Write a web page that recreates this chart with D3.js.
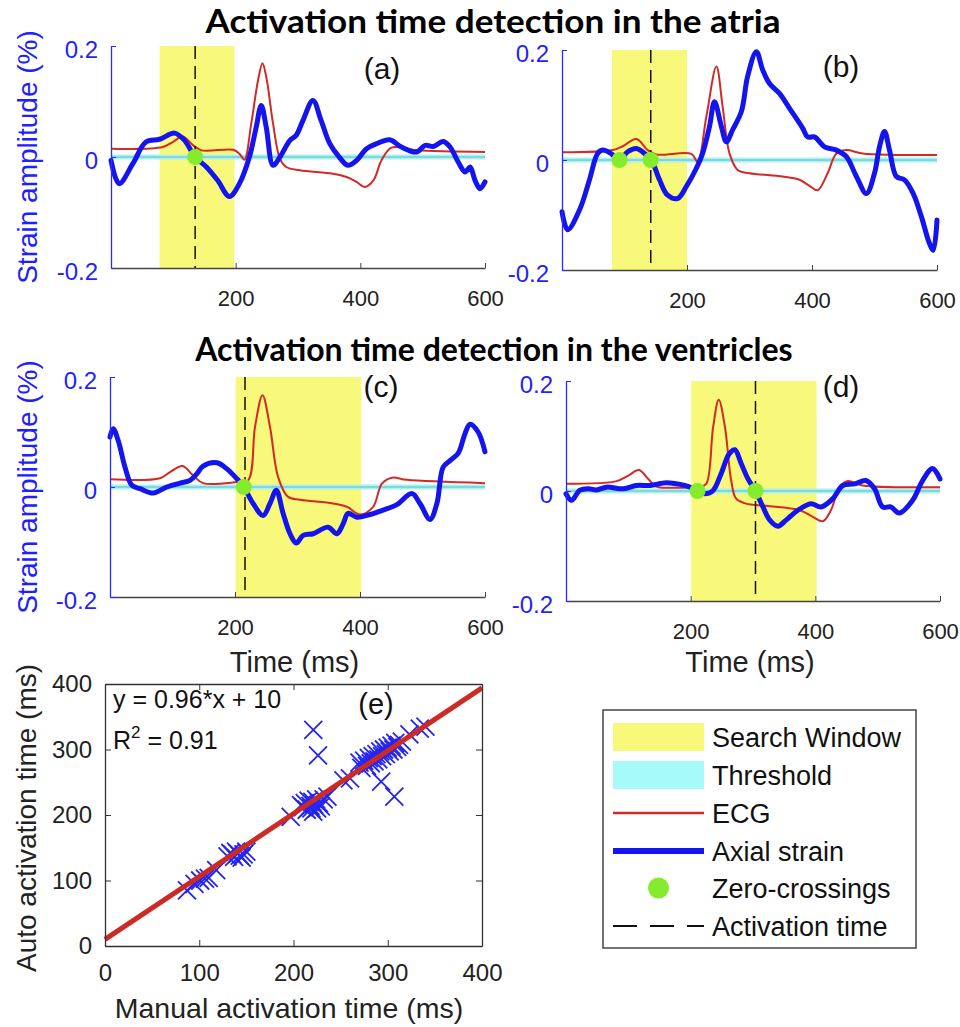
<!DOCTYPE html>
<html><head><meta charset="utf-8">
<script src="https://cdn.jsdelivr.net/npm/d3@7"></script>
<style>
body{margin:0;background:#fff;}
svg text{font-family:"Liberation Sans",Arial,Helvetica,sans-serif;}
</style></head><body>
<svg id="chart" width="960" height="1027"></svg>
<script>
// ---------------- DATA ----------------
const titles = ["Activation time detection in the atria", "Activation time detection in the ventricles"];
const panelLabels = ["(a)", "(b)", "(c)", "(d)"];
const timeTicks = [200, 400, 600];
const strainTicks = [-0.2, 0, 0.2];
const searchWindows = [[78, 198], [80, 200], [201, 402], [201, 402]];
const activationTimes = [135, 142, 216, 304];
const zeroCrossings = [[135], [92, 142], [214], [211, 304]];

// [time ms, strain %]
const strainA = [[0,-0.006],[13,-0.048],[35,-0.012],[56,0.027],[78,0.032],[102,0.043],[118,0.030],[135,0],[153,-0.018],[171,-0.042],[190,-0.071],[206,-0.048],[222,0],[233,0.054],[241,0.093],[249,0.054],[260,-0.015],[271,0],[287,0.030],[297,0.039],[308,0.066],[324,0.102],[337,0.066],[351,0.024],[364,0.003],[380,-0.015],[394,-0.006],[410,0.015],[426,0.024],[447,0.031],[466,0.018],[490,0.009],[504,0.021],[517,0.019],[533,0.028],[544,0.018],[557,-0.009],[568,-0.027],[576,-0.018],[584,-0.042],[592,-0.057],[600,-0.045]];
const ecgA = [[0,0.015],[83,0.018],[99,0.027],[115,0.037],[132,0.021],[145,0.012],[196,0.013],[206,0.006],[214,-0.005],[225,0.060],[236,0.139],[243,0.169],[249,0.145],[260,0.060],[271,-0.003],[281,-0.018],[303,-0.024],[356,-0.030],[378,-0.036],[394,-0.045],[407,-0.054],[421,-0.042],[434,-0.006],[450,0.017],[490,0.012],[600,0.009]];

const strainB = [[0,-0.094],[9,-0.127],[28,-0.091],[44,-0.036],[57,0.012],[65,0.018],[78,0.012],[92,0],[105,0.015],[119,0.021],[132,0.012],[143,0],[156,-0.036],[169,-0.064],[185,-0.070],[199,-0.048],[215,-0.015],[225,0.012],[236,0.061],[244,0.106],[255,0.061],[263,0.033],[273,0.055],[287,0.088],[297,0.152],[311,0.197],[321,0.164],[332,0.139],[348,0.121],[364,0.094],[385,0.058],[393,0.042],[404,0.042],[420,0.024],[439,0.018],[455,0.006],[471,-0.030],[487,-0.061],[500,-0.024],[508,0.024],[516,0.052],[524,0.018],[535,-0.030],[548,-0.036],[562,-0.061],[575,-0.103],[588,-0.152],[594,-0.164],[600,-0.109]];
const ecgB = [[0,0.014],[81,0.018],[97,0.025],[119,0.038],[137,0.018],[151,0.010],[207,0.011],[217,-0.003],[231,0.079],[247,0.170],[257,0.097],[268,0.012],[281,-0.018],[300,-0.024],[353,-0.030],[380,-0.036],[396,-0.047],[409,-0.055],[425,-0.024],[439,0.012],[455,0.018],[481,0.012],[600,0.009]];

const strainC = [[0,0.091],[5,0.106],[13,0.085],[24,0.036],[35,0.003],[48,-0.003],[69,-0.011],[91,0],[112,0.007],[128,0.012],[139,0.024],[149,0.038],[171,0.044],[187,0.033],[203,0.015],[214,0],[229,-0.030],[245,-0.052],[256,-0.030],[266,-0.006],[277,-0.048],[288,-0.085],[298,-0.102],[309,-0.088],[325,-0.085],[349,-0.073],[363,-0.085],[373,-0.067],[381,-0.048],[395,-0.055],[416,-0.050],[437,-0.042],[459,-0.032],[483,-0.012],[496,-0.030],[512,-0.059],[523,-0.030],[533,0.036],[544,0.048],[557,0.061],[568,0.097],[576,0.114],[589,0.100],[600,0.064]];
const ecgC = [[0,0.014],[80,0.016],[96,0.027],[116,0.038],[133,0.021],[149,0.007],[203,0.009],[221,0.012],[232,0.109],[244,0.167],[256,0.109],[269,0.018],[285,-0.018],[304,-0.023],[357,-0.030],[379,-0.036],[400,-0.050],[421,-0.036],[435,0.006],[451,0.017],[475,0.013],[600,0.007]];

const strainD = [[0,-0.005],[9,-0.017],[22,0.001],[36,0.004],[49,0.002],[65,0.007],[92,0.004],[113,0.010],[135,0.010],[161,0.015],[183,0.012],[199,0.007],[211,0],[223,-0.005],[236,0.001],[249,0.032],[262,0.068],[271,0.075],[281,0.050],[292,0.022],[304,0],[316,-0.029],[327,-0.053],[340,-0.064],[353,-0.053],[372,-0.035],[393,-0.023],[409,-0.029],[428,-0.014],[444,0.010],[463,0.013],[481,0.019],[495,0.004],[508,-0.029],[521,-0.029],[535,-0.040],[556,-0.017],[572,0.019],[588,0.041],[600,0.022]];
const ecgD = [[0,0.013],[81,0.018],[100,0.028],[117,0.038],[132,0.022],[145,0.008],[172,0.006],[215,0.008],[225,0.013],[236,0.116],[245,0.166],[255,0.116],[265,0.019],[273,-0.014],[289,-0.023],[321,-0.027],[375,-0.035],[396,-0.047],[412,-0.055],[425,-0.035],[439,0.007],[452,0.018],[476,0.010],[600,0.007]];

// panel (e): manual vs auto activation time (ms)
const manualTimes = [87,95,101,106,110,118,130,133,135,137,139,141,143,145,147,150,197,208,210,212,214,216,218,219,220,221,222,224,225,227,229,232,236,221,226,293,307,253,260,270,272,275,278,280,282,284,286,288,290,292,294,296,298,300,302,304,306,308,310,312,315,323,334,340];
const autoTimes   = [85,95,100,103,104,116,137,142,140,136,144,141,138,135,140,144,197,215,212,218,208,222,214,210,220,205,216,224,210,218,213,224,228,330,291,251,228,253,256,280,272,283,275,287,279,290,282,293,285,297,290,300,293,303,297,306,300,310,304,307,312,323,332,335];
const fitSlope = 0.96, fitIntercept = 10;
const scatterTicks = [0, 100, 200, 300, 400];
const legendItems = ["Search Window", "Threshold", "ECG", "Axial strain", "Zero-crossings", "Activation time"];

// ---------------- LAYOUT ----------------
const svg = d3.select("#chart");
const BLUE = "#1414ee", RED = "#d22a26", YEL = "#f8f87a", GREEN = "#84ec2c";
const geoms = [
  {l:111, r:485, t:46, b:268},
  {l:562, r:937, t:50, b:270},
  {l:110, r:485, t:377, b:597},
  {l:566, r:940, t:381, b:601}
];
const letterPos = [[382,79],[841,77],[381,397],[841,397]];
const series = [[strainA, ecgA],[strainB, ecgB],[strainC, ecgC],[strainD, ecgD]];

svg.append("text").attr("x", 493).attr("y", 32.5).attr("text-anchor","middle")
  .attr("textLength", 575).attr("lengthAdjust", "spacingAndGlyphs")
  .style("font-family","Lato, 'Open Sans', sans-serif").style("font-weight","bold").style("font-size","32.5px").text(titles[0]);
svg.append("text").attr("x", 494).attr("y", 361).attr("text-anchor","middle")
  .style("font-family","Lato, 'Open Sans', sans-serif").style("font-weight","bold").style("font-size","32px").text(titles[1]);

function fmtStrain(d){ return d === 0 ? "0" : String(d); }

geoms.forEach((gm, i) => {
  const x = d3.scaleLinear().domain([0, 600]).range([gm.l, gm.r]);
  const y = d3.scaleLinear().domain([-0.2, 0.2]).range([gm.b, gm.t]);
  const g = svg.append("g");
  const w = searchWindows[i];
  g.append("rect").attr("x", x(w[0])).attr("width", x(w[1]) - x(w[0]))
    .attr("y", y(0.2)).attr("height", y(-0.2) - y(0.2)).attr("fill", YEL);
  // threshold band
  g.append("line").attr("x1", x(0)).attr("x2", x(600)).attr("y1", y(0)).attr("y2", y(0))
    .attr("stroke", "#a8f2f2").attr("stroke-width", 5);
  g.append("line").attr("x1", x(0)).attr("x2", x(600)).attr("y1", y(0)).attr("y2", y(0))
    .attr("stroke", "#5fb9bf").attr("stroke-width", 1.2);
  const line = d3.line().x(d => x(d[0])).y(d => y(d[1])).curve(d3.curveCatmullRom.alpha(0.5));
  g.append("path").attr("d", line(series[i][1])).attr("fill","none").attr("stroke", RED).attr("stroke-width", 2);
  g.append("path").attr("d", line(series[i][0])).attr("fill","none").attr("stroke", BLUE)
    .attr("stroke-width", 5).attr("stroke-linejoin","round").attr("stroke-linecap","round");
  g.append("line").attr("x1", x(activationTimes[i])).attr("x2", x(activationTimes[i]))
    .attr("y1", y(0.2)).attr("y2", y(-0.2)).attr("stroke", "#111").attr("stroke-width", 1.5)
    .attr("stroke-dasharray", "13,7");
  zeroCrossings[i].forEach(t => {
    g.append("circle").attr("cx", x(t)).attr("cy", y(0)).attr("r", 8).attr("fill", GREEN);
  });
  // axes
  const xa = g.append("g").attr("transform", `translate(0,${gm.b})`)
    .call(d3.axisBottom(x).tickValues(timeTicks).tickSize(-5).tickPadding(22).tickSizeOuter(0));
  xa.select(".domain").attr("stroke", "#444").attr("stroke-width", 1.3);
  xa.selectAll(".tick line").attr("stroke", "#444");
  xa.selectAll("text").style("font-size", "22px").attr("fill", "#222");
  const ya = g.append("g").attr("transform", `translate(${gm.l},0)`)
    .call(d3.axisLeft(y).tickValues(strainTicks).tickSize(-5).tickPadding(13).tickSizeOuter(0).tickFormat(fmtStrain));
  ya.select(".domain").attr("stroke", "#2b2bff").attr("stroke-width", 1.3);
  ya.selectAll(".tick line").attr("stroke", "#2b2bff");
  ya.selectAll("text").style("font-size", "24px").attr("fill", "#1f1fff").attr("dy", "0.48em");
  g.append("text").attr("x", letterPos[i][0]).attr("y", letterPos[i][1]).attr("text-anchor","middle")
    .style("font-size","30px").attr("fill","#111").text(panelLabels[i]);
  if (i === 0 || i === 2) {
    g.append("text").attr("transform", `translate(37,${(gm.t + gm.b)/2}) rotate(-90)`)
      .attr("text-anchor","middle").style("font-size","28px").attr("fill","#2020ff").text("Strain amplitude (%)");
  }
  if (i >= 2) {
    g.append("text").attr("x", (gm.l + gm.r)/2 - 3).attr("y", 672).attr("text-anchor","middle")
      .style("font-size","29px").attr("fill","#222").text("Time (ms)");
  }
});

// ---------------- PANEL (e) ----------------
{
  const gm = {l:105, r:482, t:684, b:946};
  const x = d3.scaleLinear().domain([0, 400]).range([gm.l, gm.r]);
  const y = d3.scaleLinear().domain([0, 400]).range([gm.b, gm.t]);
  const g = svg.append("g");
  const s = 9;
  manualTimes.forEach((m, k) => {
    const cx = x(m), cy = y(autoTimes[k]);
    g.append("path").attr("d", `M${cx-s},${cy-s}L${cx+s},${cy+s}M${cx-s},${cy+s}L${cx+s},${cy-s}`)
      .attr("stroke", "#2424f2").attr("stroke-width", 1.8).attr("fill","none");
  });
  g.append("line").attr("x1", x(0)).attr("y1", y(fitIntercept)).attr("x2", x(400)).attr("y2", y(fitSlope*400 + fitIntercept))
    .attr("stroke", "#cc2a22").attr("stroke-width", 5);
  const styleAx = a => { a.select(".domain").attr("stroke","#333").attr("stroke-width",1.3); a.selectAll(".tick line").attr("stroke","#333"); a.selectAll("text").style("font-size","24px").attr("fill","#222"); };
  styleAx(g.append("g").attr("transform",`translate(0,${gm.b})`).call(d3.axisBottom(x).tickValues(scatterTicks).tickSize(-6).tickPadding(18).tickSizeOuter(0)));
  styleAx(g.append("g").attr("transform",`translate(${gm.l},0)`).call(d3.axisLeft(y).tickValues(scatterTicks).tickSize(-6).tickPadding(13).tickSizeOuter(0)));
  styleAx(g.append("g").attr("transform",`translate(0,${gm.t})`).call(d3.axisTop(x).tickValues(scatterTicks).tickSize(-6).tickSizeOuter(0).tickFormat("")));
  styleAx(g.append("g").attr("transform",`translate(${gm.r},0)`).call(d3.axisRight(y).tickValues(scatterTicks).tickSize(-6).tickSizeOuter(0).tickFormat("")));
  g.append("text").attr("x", 113).attr("y", 708).style("font-size","25px").attr("fill","#111").text("y = 0.96*x + 10");
  const r2 = g.append("text").attr("x", 113).attr("y", 749).style("font-size","25px").attr("fill","#111");
  r2.append("tspan").text("R");
  r2.append("tspan").attr("dy", -11).style("font-size","17px").text("2");
  r2.append("tspan").attr("dy", 11).text(" = 0.91");
  g.append("text").attr("x", 376).attr("y", 714).attr("text-anchor","middle").style("font-size","29px").attr("fill","#111").text("(e)");
  g.append("text").attr("x", 289).attr("y", 1018).attr("text-anchor","middle").style("font-size","28.5px").attr("fill","#222").text("Manual activation time (ms)");
  g.append("text").attr("transform", `translate(36,818) rotate(-90)`).attr("text-anchor","middle")
    .style("font-size","28px").attr("fill","#222").text("Auto activation time (ms)");
}

// ---------------- LEGEND ----------------
{
  const g = svg.append("g");
  g.append("rect").attr("x", 603).attr("y", 710).attr("width", 313).attr("height", 238)
    .attr("fill", "#fff").attr("stroke", "#444").attr("stroke-width", 1.5);
  const sx0 = 613, sx1 = 704, tx = 712;
  const rowY = [737, 775, 813, 851, 888, 926];
  g.append("rect").attr("x", sx0).attr("y", rowY[0]-14).attr("width", sx1-sx0).attr("height", 28).attr("fill", YEL);
  g.append("rect").attr("x", sx0).attr("y", rowY[1]-14).attr("width", sx1-sx0).attr("height", 28).attr("fill", "#a6fafa");
  g.append("line").attr("x1", sx0).attr("x2", sx1).attr("y1", rowY[2]).attr("y2", rowY[2]).attr("stroke", RED).attr("stroke-width", 2.5);
  g.append("line").attr("x1", sx0).attr("x2", sx1).attr("y1", rowY[3]).attr("y2", rowY[3]).attr("stroke", BLUE).attr("stroke-width", 6);
  g.append("circle").attr("cx", (sx0+sx1)/2).attr("cy", rowY[4]).attr("r", 10.5).attr("fill", GREEN);
  g.append("line").attr("x1", sx0).attr("x2", sx1).attr("y1", rowY[5]).attr("y2", rowY[5]).attr("stroke", "#111").attr("stroke-width", 1.8).attr("stroke-dasharray", "24,13");
  legendItems.forEach((t, k) => {
    g.append("text").attr("x", tx).attr("y", rowY[k] + 10).style("font-size","27px").attr("fill","#111").text(t);
  });
}
</script>
</body></html>
